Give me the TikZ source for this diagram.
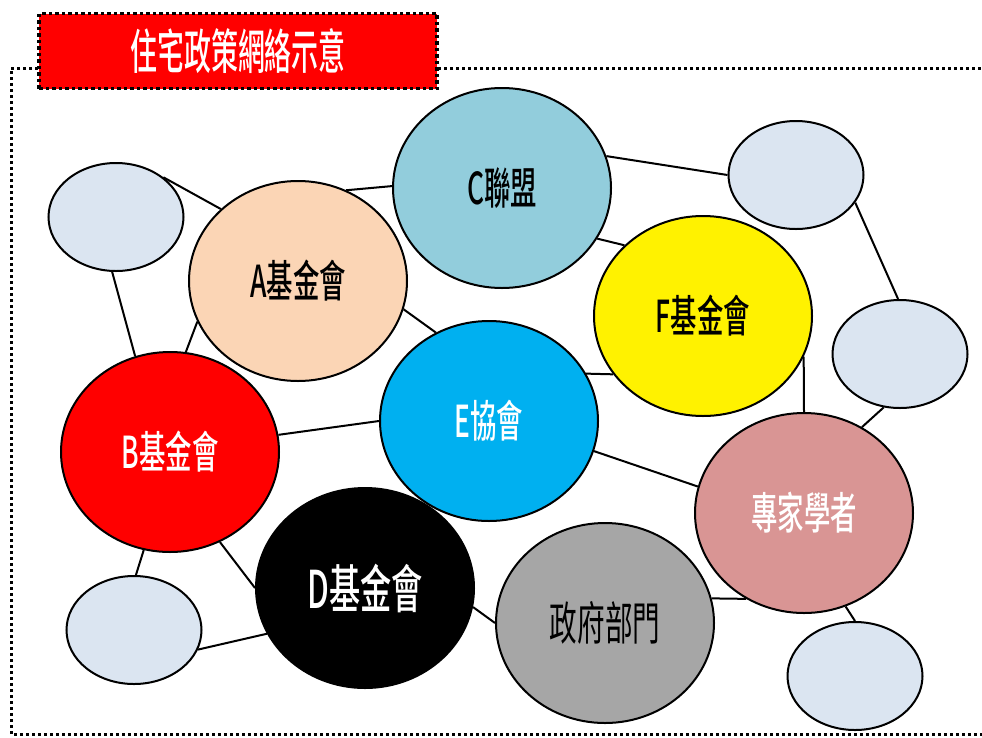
\documentclass[tikz,border=0pt]{standalone}
\usepackage{fontspec}
\newfontfamily\cjk{Noto Sans CJK TC}
\newfontfamily\cjkm{Noto Sans CJK TC}[UprightFont=* Medium]
\usetikzlibrary{shapes.geometric}
\definecolor{peach}{HTML}{FBD5B5}
\definecolor{aqua}{HTML}{92CDDC}
\definecolor{ebl}{HTML}{00B0F0}
\definecolor{rose}{HTML}{D99594}
\definecolor{govgray}{HTML}{A6A6A6}
\definecolor{pale}{HTML}{DBE5F1}
\newcommand\lbl[2][0.6]{\scalebox{#1}[1]{#2}}
\tikzset{
  bubble/.style={ellipse, draw=black, line width=2pt, inner sep=0pt,
    minimum width=218pt, minimum height=200pt,
    font=\cjkm\fontsize{44}{48}\selectfont},
  small/.style={ellipse, draw=black, line width=2pt, inner sep=0pt, fill=pale,
    minimum width=135pt, minimum height=108pt},
  link/.style={draw=black, line width=2pt},
  frame/.style={draw=black, line width=3pt, dash pattern=on 3pt off 3pt},
}
\begin{document}
\begin{tikzpicture}[x=1pt,y=-1pt]
\useasboundingbox (0,0) rectangle (982,737);
% outer dotted frame
\coordinate (f1) at (38,68);
\coordinate (f2) at (11,68);
\coordinate (f3) at (11,734);
\coordinate (f4) at (982,734);
\coordinate (f5) at (438,68);
\coordinate (f6) at (982,68);
\draw[frame] (f1) -- (f2) -- (f3) -- (f4);
\draw[frame] (f5) -- (f6);
% title
\node[draw=black, fill=red, line width=3.5pt, dash pattern=on 3.5pt off 3pt,
  minimum width=398pt, minimum height=75pt, inner sep=0pt,
  text=white, font=\cjkm\fontsize{48}{52}\selectfont] (title) at (238,51)
  {\lbl[0.56]{住宅政策網絡示意}};
% small nodes
\node[small] (s1) at (116,217) {};
\node[small] (s2) at (796,175) {};
\node[small] (s3) at (900,354) {};
\node[small] (s4) at (134,630) {};
\node[small] (s5) at (855,676) {};
% main nodes
\node[bubble, fill=peach] (A) at (298,281) {\lbl{A基金會}};
\node[bubble, fill=aqua] (C) at (502,188) {\lbl{C聯盟}};
\node[bubble, fill=yellow] (F) at (703,316) {\lbl{F基金會}};
\node[bubble, fill=ebl, text=white] (E) at (489,421) {\lbl{E協會}};
\node[bubble, fill=red, text=white] (B) at (170,452) {\lbl{B基金會}};
\node[bubble, fill=black, text=white, font=\cjkm\fontsize{52}{56}\selectfont] (D) at (365,588) {\lbl{D基金會}};
\node[bubble, fill=rose, text=white] (X) at (804,513) {\lbl{專家學者}};
\node[bubble, fill=govgray, font=\cjk\fontsize{46}{50}\selectfont] (G) at (605,623) {\lbl{政府部門}};
% connectors
\draw[link] (s1.40) -- (A.137);
\draw[link] (s1.266) -- (B.110);
\draw[link] (A.202) -- (B.81);
\draw[link] (A.62) -- (C.179);
\draw[link] (A.345) -- (E.121);
\draw[link] (C.17) -- (s2.180);
\draw[link] (C.332) -- (F.138);
\draw[link] (s2.335) -- (s3.92);
\draw[link] (F.213) -- (E.26);
\draw[link] (F.338) -- (X.90);
\draw[link] (s3.253) -- (X.56);
\draw[link] (B.9) -- (E.180);
\draw[link] (E.344) -- (X.166);
\draw[link] (B.299) -- (D.180);
\draw[link] (B.255) -- (s4.88);
\draw[link] (s4.343) -- (D.205);
\draw[link] (D.350) -- (G.180);
\draw[link] (G.13) -- (X.236);
\draw[link] (X.294) -- (s5.90);
\end{tikzpicture}
\end{document}
